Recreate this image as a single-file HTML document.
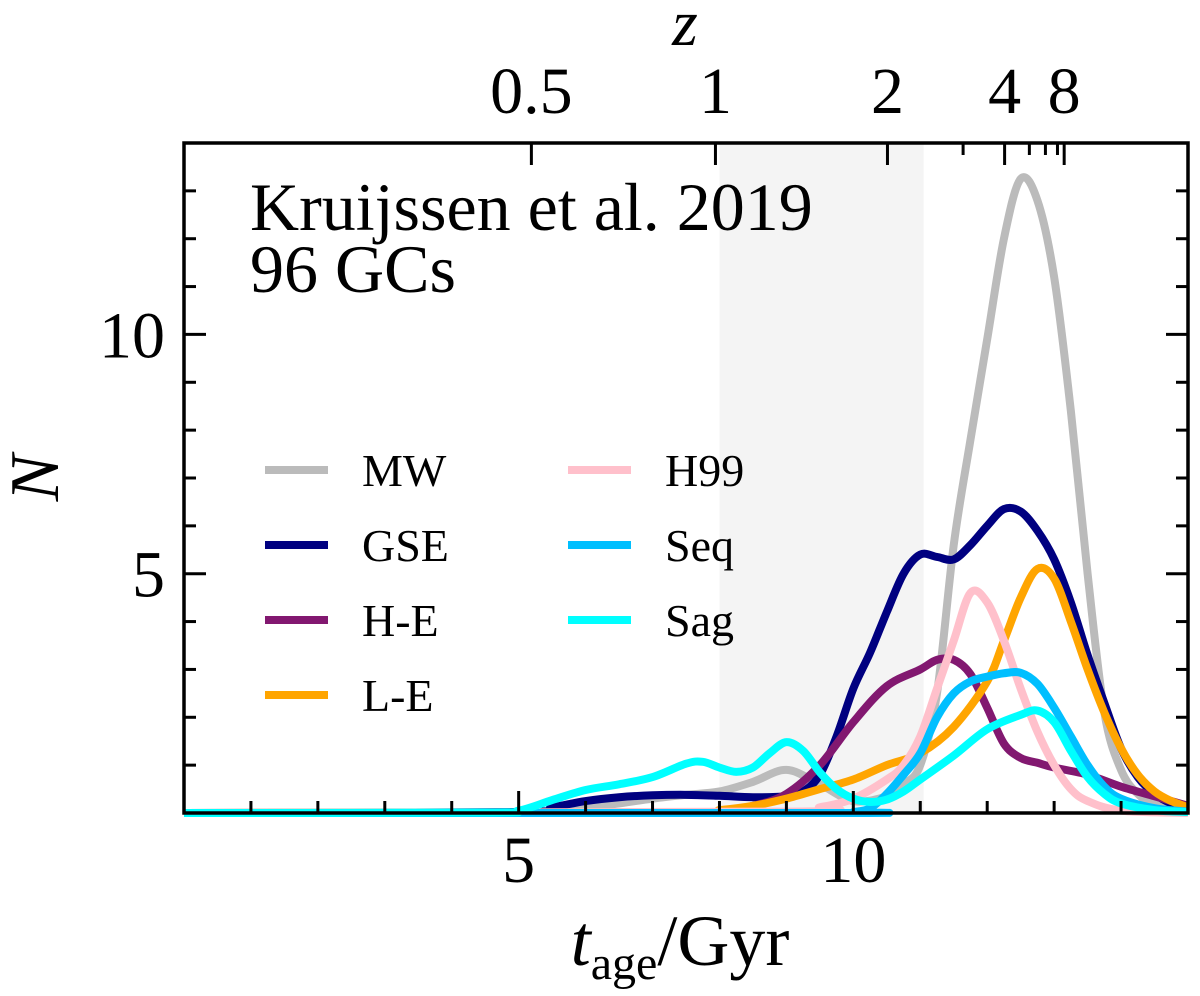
<!DOCTYPE html>
<html><head><meta charset="utf-8"><style>
body{margin:0;background:#fff}
svg{display:block;font-family:"Liberation Serif",serif}
</style></head><body>
<svg id="chart" width="1200" height="996" viewBox="0 0 1200 996" xmlns="http://www.w3.org/2000/svg"></svg>
<script>
const seriesNames=["MW","GSE","H-E","L-E","H99","Seq","Sag"];
const mwT=[0,5,5.5,6,6.5,7,7.5,8,8.5,9,9.5,10,10.5,10.75,11,11.25,11.5,11.75,12,12.25,12.5,12.75,13,13.25,13.5,13.75,14,14.25,14.5,15];
const mwN=[0,0,0.02,0.1,0.2,0.3,0.38,0.45,0.65,0.9,0.6,0.25,0.35,0.6,1.0,2.5,5.6,7.8,9.9,12.0,13.25,12.8,11.2,8.4,5.0,2.1,0.9,0.4,0.2,0.08];
const gseT=[0,5,5.5,6,6.5,7,7.5,8,8.5,9,9.25,9.5,9.75,10,10.25,10.5,10.75,11,11.25,11.5,11.75,12,12.25,12.5,12.75,13,13.25,13.5,13.75,14,14.25,14.5,14.75,15];
const gseN=[0,0.02,0.12,0.25,0.33,0.37,0.38,0.36,0.33,0.35,0.45,0.8,1.6,2.6,3.35,4.2,5.0,5.4,5.35,5.3,5.6,6.0,6.35,6.3,5.9,5.3,4.4,3.3,2.3,1.35,0.75,0.4,0.2,0.1];
const heT=[0,7.5,8,8.5,9,9.5,10,10.5,11,11.25,11.5,11.75,12,12.25,12.5,12.75,13,13.5,14,14.5,15];
const heN=[0,0.01,0.05,0.15,0.4,1.0,1.9,2.65,3.0,3.2,3.2,2.9,2.2,1.45,1.15,1.05,0.95,0.8,0.55,0.35,0.15];
const leT=[0,7.5,8,8.5,9,9.5,10,10.5,11,11.5,12,12.25,12.5,12.75,13,13.25,13.5,13.75,14,14.25,14.5,14.75,15];
const leN=[0,0.02,0.06,0.15,0.3,0.5,0.7,1.0,1.25,1.8,2.75,3.6,4.5,5.1,4.9,4.0,3.0,2.1,1.35,0.8,0.45,0.25,0.12];
const h99T=[0,9,9.5,10,10.5,10.75,11,11.25,11.5,11.75,12,12.25,12.5,12.75,13,13.25,13.5,14,15];
const h99N=[0,0.03,0.12,0.3,0.7,1.0,1.6,2.6,3.6,4.6,4.4,3.6,2.6,1.7,1.0,0.5,0.25,0.05,0];
const seqT=[0,9.75,10,10.25,10.5,10.75,11,11.25,11.5,11.75,12,12.25,12.5,12.75,13,13.25,13.5,13.75,14,14.5,15];
const seqN=[0,0,0.02,0.1,0.4,0.8,1.25,2.0,2.5,2.75,2.85,2.92,2.93,2.7,2.2,1.6,1.0,0.55,0.3,0.1,0.03];
const sagT=[0,4.5,5,5.5,6,6.5,7,7.5,7.75,8,8.25,8.5,8.75,9,9.25,9.5,9.75,10,10.25,10.5,10.75,11,11.5,12,12.5,12.75,13,13.25,13.5,13.75,14,14.5,15];
const sagN=[0,0.01,0.05,0.27,0.48,0.6,0.75,1.03,1.07,0.95,0.86,0.95,1.25,1.48,1.3,0.85,0.5,0.3,0.23,0.28,0.45,0.7,1.2,1.75,2.05,2.14,1.9,1.3,0.75,0.4,0.2,0.06,0.02];
const xTickVals=[5,10];
const xTickLabels=["5","10"];
const yTickVals=[5,10];
const yTickLabels=["5","10"];
const zMajorT=[5.19,7.94,10.51,12.26,13.15];
const zMajorLabels=["0.5","1","2","4","8"];
const zMinorT=[11.64,12.63,12.87,13.05];
const shadeRange=[8,11.05];

const L=184,R=1188,T=143,B=813,XMAX=15,YMAX=14;
const X=t=>L+(R-L)*t/XMAX;
const Y=n=>B-(B-T)*n/YMAX;
const svg=document.getElementById('chart');
const NS="http://www.w3.org/2000/svg";
function mk(tag,attrs,parent){const e=document.createElementNS(NS,tag);for(const k in attrs)e.setAttribute(k,attrs[k]);(parent||svg).appendChild(e);return e;}

const defs=mk('defs',{});
const cp=mk('clipPath',{id:'clip'},defs);
mk('rect',{x:L,y:T,width:R-L,height:B-T+4},cp);

const sh=mk('rect',{x:X(shadeRange[0]),y:T,width:X(shadeRange[1])-X(shadeRange[0]),height:B-T,fill:'#f4f4f4'});



// Catmull-Rom with control points clamped to the baseline
function smooth(ts,ns){
  const p=ts.map((t,i)=>[X(t),Y(ns[i])]);
  const cl=v=>Math.min(v,B);
  let d=`M${p[0][0]},${p[0][1]}`;
  for(let i=0;i<p.length-1;i++){
    const p0=p[i-1]||p[i],p1=p[i],p2=p[i+1],p3=p[i+2]||p[i+1];
    const c1=[p1[0]+(p2[0]-p0[0])/6,cl(p1[1]+(p2[1]-p0[1])/6)];
    const c2=[p2[0]-(p3[0]-p1[0])/6,cl(p2[1]-(p3[1]-p1[1])/6)];
    d+=` C${c1[0]},${c1[1]} ${c2[0]},${c2[1]} ${p2[0]},${p2[1]}`;
  }
  return d;
}
const series=[[mwT,mwN,'#bbbbbb'],[gseT,gseN,'#000080'],[heT,heN,'#821870'],[leT,leN,'#ffa500'],[h99T,h99N,'#ffc0cb'],[seqT,seqN,'#00bfff'],[sagT,sagN,'#00ffff']];
const g=mk('g',{'clip-path':'url(#clip)'});
series.forEach((s,i)=>{
  const path=mk('path',{d:smooth(s[0],s[1]),fill:'none',stroke:s[2],'stroke-width':8,'stroke-linejoin':'round'},g);
  
  
});

const fr=mk('rect',{x:L,y:T,width:R-L,height:B-T,fill:'none',stroke:'#000','stroke-width':3.5});



for(let t=1;t<XMAX;t++){
  const len=xTickVals.includes(t)?22:12;
  mk('line',{x1:X(t),x2:X(t),y1:B,y2:B-len,stroke:'#000','stroke-width':3});
}
xTickVals.forEach((v,i)=>{
  const tx=mk('text',{x:X(v),y:882,'font-size':66,'text-anchor':'middle'});
  tx.textContent=xTickLabels[i];
  
  
});
for(let n=1;n<YMAX;n++){
  const len=yTickVals.includes(n)?22:12;
  mk('line',{x1:L,x2:L+len,y1:Y(n),y2:Y(n),stroke:'#000','stroke-width':3});
  mk('line',{x1:R,x2:R-len,y1:Y(n),y2:Y(n),stroke:'#000','stroke-width':3});
}
yTickVals.forEach((v,i)=>{
  const tx=mk('text',{x:165,y:Y(v)+23,'font-size':66,'text-anchor':'end'});
  tx.textContent=yTickLabels[i];
  
  
});
zMajorT.forEach((t,i)=>{
  mk('line',{x1:X(t),x2:X(t),y1:T,y2:T+22,stroke:'#000','stroke-width':3});
  const tx=mk('text',{x:X(t),y:113,'font-size':66,'text-anchor':'middle'});
  tx.textContent=zMajorLabels[i];
  
  
});
zMinorT.forEach(t=>mk('line',{x1:X(t),x2:X(t),y1:T,y2:T+12,stroke:'#000','stroke-width':3}));

const leg=mk('g',{});


const legPos=[[265,470],[265,545],[265,620],[265,695],[568,470],[568,545],[568,620]];
series.forEach((s,i)=>{
  const [lx,ly]=legPos[i];
  const e=mk('g',{},leg);
  
  
  mk('line',{x1:lx,x2:lx+63,y1:ly,y2:ly,stroke:s[2],'stroke-width':8},e);
  const tx=mk('text',{x:lx+97,y:ly+16,'font-size':46},e);
  tx.textContent=seriesNames[i];
});
</script>
<svg style="position:absolute;left:0;top:0" width="1200" height="996" xmlns="http://www.w3.org/2000/svg" font-family="Liberation Serif, serif">
<text x="250" y="230" font-size="68">Kruijssen et al. 2019</text>
<text x="250" y="292" font-size="68">96 GCs</text>
<text x="685" y="45" font-size="66" font-style="italic" text-anchor="middle">z</text>
<text x="58" y="478" font-size="70" font-style="italic" text-anchor="middle" transform="rotate(-90 58 478)">N</text>
<text x="680" y="965" font-size="72" text-anchor="middle"><tspan font-style="italic">t</tspan><tspan font-size="48" dy="14">age</tspan><tspan dy="-14">/Gyr</tspan></text>
</svg>
</body></html>
